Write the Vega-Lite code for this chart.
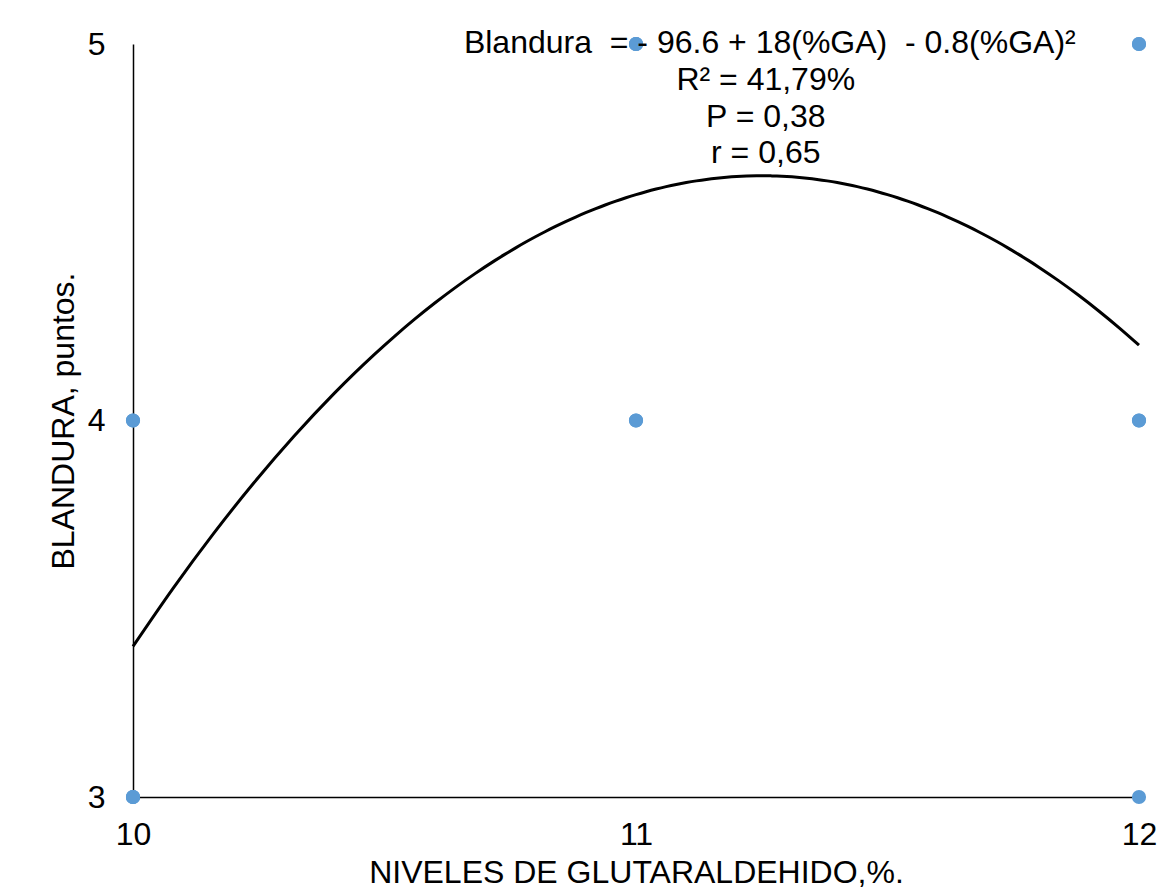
{
  "$schema": "https://vega.github.io/schema/vega-lite/v6.json",
  "width": 1006,
  "height": 753,
  "autosize": {"type": "none"},
  "padding": {"left": 133, "top": 44, "right": 23, "bottom": 92},
  "background": "white",
  "config": {
    "view": {"stroke": null},
    "font": "Liberation Sans",
    "axis": {"grid": false, "ticks": false, "labelFlush": false, "labelOverlap": false, "format": "d", "domainColor": "#000000", "domainWidth": 1.5, "labelFont": "Liberation Sans", "labelFontSize": 32, "labelColor": "#000000", "titleFont": "Liberation Sans", "titleFontSize": 32, "titleFontWeight": "normal", "titleColor": "#000000"}
  },
  "datasets": {
    "obs": [
      {"ga": 10, "blandura": 4}, {"ga": 10, "blandura": 3}, {"ga": 10, "blandura": 3}, {"ga": 10, "blandura": 4}, {"ga": 10, "blandura": 3},
      {"ga": 11, "blandura": 5}, {"ga": 11, "blandura": 5}, {"ga": 11, "blandura": 4}, {"ga": 11, "blandura": 5}, {"ga": 11, "blandura": 4},
      {"ga": 12, "blandura": 5}, {"ga": 12, "blandura": 4}, {"ga": 12, "blandura": 3}, {"ga": 12, "blandura": 5}, {"ga": 12, "blandura": 4}
    ],
    "notes": [
      {"ga": 11.266, "blandura": 4.976, "label": "Blandura \u00a0= - 96.6 + 18(%GA) \u00a0- 0.8(%GA)²"},
      {"ga": 11.258, "blandura": 4.878, "label": "R² = 41,79%"},
      {"ga": 11.258, "blandura": 4.780, "label": "P = 0,38"},
      {"ga": 11.258, "blandura": 4.684, "label": "r = 0,65"}
    ]
  },
  "layer": [
    {
      "data": {"name": "obs"},
      "transform": [{"regression": "blandura", "on": "ga", "method": "poly", "order": 2}],
      "mark": {"type": "line", "color": "#000000", "strokeWidth": 3, "interpolate": "monotone"},
      "encoding": {
        "x": {"field": "ga", "type": "quantitative", "scale": {"domain": [10, 12], "nice": false}, "axis": {"values": [10, 11, 12], "labelPadding": 22, "title": "NIVELES DE GLUTARALDEHIDO,%.", "titleBaseline": "alphabetic", "titleY": 85}},
        "y": {"field": "blandura", "type": "quantitative", "scale": {"domain": [3, 5], "nice": false}, "axis": {"values": [3, 4, 5], "labelPadding": 28, "title": "BLANDURA, puntos.", "titleBaseline": "alphabetic", "titleX": -60}}
      }
    },
    {
      "data": {"name": "obs"},
      "mark": {"type": "circle", "color": "#5B9BD5", "opacity": 1, "size": 200},
      "encoding": {
        "x": {"field": "ga", "type": "quantitative"},
        "y": {"field": "blandura", "type": "quantitative"}
      }
    },
    {
      "data": {"name": "notes"},
      "mark": {"type": "text", "align": "center", "baseline": "alphabetic", "fontSize": 32, "font": "Liberation Sans", "color": "#000000"},
      "encoding": {
        "x": {"field": "ga", "type": "quantitative"},
        "y": {"field": "blandura", "type": "quantitative"},
        "text": {"field": "label"}
      }
    }
  ]
}
